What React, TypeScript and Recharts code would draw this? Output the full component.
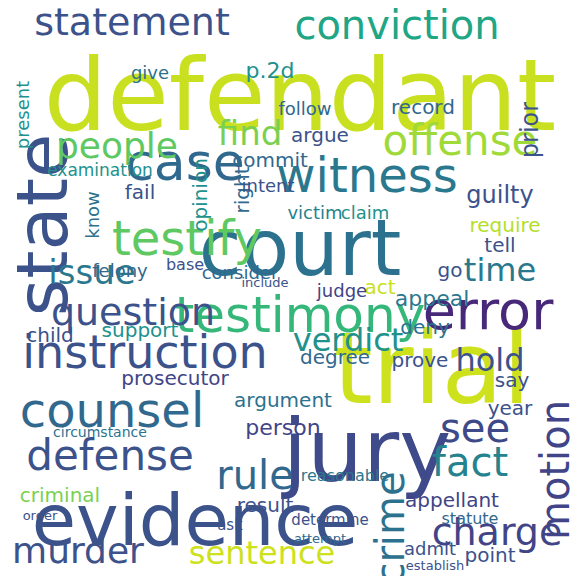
import React from "react";
import { ScatterChart, Scatter, XAxis, YAxis } from "recharts";

const words = ["defendant","court","trial","evidence","jury","state","statement","conviction","case","witness","testify","testimony","error","instruction","counsel","defense","offense","people","find","issue","question","verdict","rule","fact","see","charge","murder","sentence","crime","motion","hold","time","appeal","argument","person","prosecutor","argue","follow","record","give","p.2d","prior","opinion","present","right","guilty","require","tell","commit","intent","victim","claim","fail","examination","know","consider","act","judge","go","deny","prove","say","year","degree","support","child","criminal","result","appellant","statute","admit","point","felony","base","include","reasonable","determine","circumstance","establish","attempt","ask","order"];
const xs = [300,300,432,195,367,42,132,397,185,367,187,300,488,145,112,110,460,117,250,92,133,348,255,470,475,497,78,262,390,555,490,500,432,283,283,175,320,305,423,150,270,530,200,22,242,500,505,500,270,268,315,365,140,100,92,240,380,342,450,425,420,512,510,335,140,50,60,265,452,470,430,490,120,185,265,345,330,100,435,320,230,40];
const ys = [95,248,368,520,450,225,22,25,162,175,238,315,310,352,410,455,140,145,133,272,312,340,475,462,428,532,550,553,528,470,360,270,298,400,427,378,135,108,107,72,70,130,195,115,190,195,225,245,160,185,212,212,192,170,215,272,287,290,270,327,360,380,408,357,330,335,495,505,500,518,548,555,270,264,282,475,520,432,565,538,525,515];
const sizes = [100,78,100,72,88,72,38,40,52,48,48,50,54,46,48,42,42,36,34,34,38,32,40,40,40,38,36,32,40,40,32,32,22,20,22,20,20,18,20,18,22,24,20,18,20,24,20,20,20,18,18,18,20,17,18,18,20,18,20,20,20,20,20,20,20,20,20,20,20,16,18,20,18,16,13,16,15,14,13,13,15,13];
const colors = ["#c8e020","#2c728e","#cde11d","#3b528b","#3e4a89","#3b528b","#3b528b","#21a685","#31688e","#2a788e","#5ec962","#35b779","#482878","#3b528b","#31688e","#3b528b","#a0da39","#5ec962","#7ad151","#2a788e","#3b528b","#21918c","#31688e","#26828e","#3e4989","#414487","#3b528b","#cde11d","#2c728e","#414487","#3b528b","#2a788e","#2a788e","#2c728e","#414487","#414487","#3b528b","#31688e","#31688e","#2c728e","#21918c","#3b528b","#21918c","#21918c","#31688e","#3b528b","#b5de2b","#3b528b","#31688e","#3b528b","#26828e","#21918c","#3b528b","#21918c","#2c728e","#31688e","#c8e020","#414487","#3b528b","#2c728e","#3b528b","#3b528b","#3b528b","#31688e","#21918c","#3b528b","#7ad151","#3b528b","#414487","#31688e","#3b528b","#3b528b","#31688e","#3b528b","#3b528b","#2a788e","#3b528b","#2c728e","#3b528b","#31688e","#3b528b","#3b528b"];
const vertical = ["state","crime","motion","prior","opinion","present","right","know"];

const data = words.map((w, i) => ({ word: w, x: xs[i], y: ys[i], size: sizes[i], color: colors[i], rot: vertical.includes(w) }));

const Word = (p: any) => {
  const d = p.payload;
  return (
    <text
      x={p.cx}
      y={p.cy}
      textAnchor="middle"
      dominantBaseline="central"
      fontFamily="DejaVu Sans"
      fontSize={d.size}
      fill={d.color}
      transform={d.rot ? `rotate(-90 ${p.cx} ${p.cy})` : undefined}
    >
      {d.word}
    </text>
  );
};

export default function App() {
  return (
    <div style={{ position: "absolute", left: 0, top: 0, width: 576, height: 576, background: "#fff" }}>
      <ScatterChart width={576} height={576} margin={{ top: 0, right: 0, bottom: 0, left: 0 }}>
        <XAxis type="number" dataKey="x" domain={[0, 576]} hide />
        <YAxis type="number" dataKey="y" domain={[0, 576]} reversed hide />
        <Scatter data={data} shape={Word} isAnimationActive={false} />
      </ScatterChart>
    </div>
  );
}
